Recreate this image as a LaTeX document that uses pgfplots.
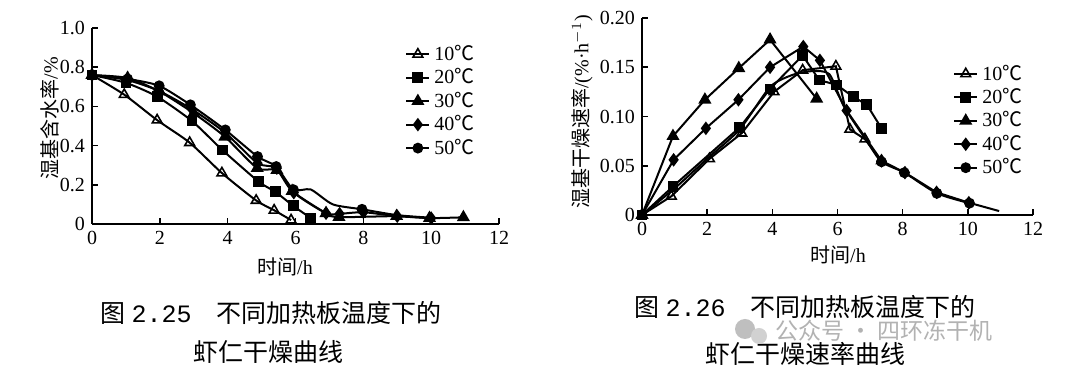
\documentclass[border=0pt]{standalone}
\usepackage{fontspec}
\setmainfont{Liberation Serif}
\newfontfamily\cjk{Noto Sans CJK SC}
\newfontfamily\monof{Liberation Mono}
\usepackage{pgfplots}
\pgfplotsset{compat=1.18}
\pgfplotsset{
  common/.style={
    scale only axis,
    axis x line*=bottom, axis y line*=left,
    tick align=inside, major tick length=3pt,
    axis line style={line width=0.9pt},
    every tick/.style={line width=0.8pt},
    tick label style={font=\fontsize{10}{12}\selectfont},
    /pgf/number format/assume math mode=true,
    xmin=0, xmax=12, ymin=0,
    xtick={0,2,...,12},
    clip=false,
    every axis plot/.append style={line width=1pt, black},
    legend style={draw=none, fill=none, inner sep=0pt, row sep=-1.4pt,
      font=\fontsize{10}{10}\selectfont, cells={anchor=west}},
    legend image code/.code={\draw[#1, mark indices={2}] plot coordinates {(0pt,0pt)(5.75pt,0pt)(11.5pt,0pt)};},
  },
  m10/.style={mark=triangle, mark size=2.8pt, mark options={solid, fill=white, line width=0.8pt}},
  m20/.style={mark=square*, mark size=2.2pt, mark options={solid, fill=black}},
  m30/.style={mark=triangle*, mark size=2.8pt, mark options={solid, fill=black}},
  m40/.style={mark=diamond*, mark size=2.6pt, mark options={solid, fill=black}},
  m50/.style={mark=*, mark size=2.2pt, mark options={solid, fill=black}},
}
\begin{document}
\begin{tikzpicture}
\path[use as bounding box, fill=white] (0pt,0pt) rectangle (540pt,189pt);
% ---------------- left chart ----------------
\begin{axis}[common, at={(46pt,77pt)}, anchor=south west,
  width=203.5pt, height=98pt, ymax=1.0,
  ytick={0,0.2,0.4,0.6,0.8,1.0}, yticklabels={0,0.2,0.4,0.6,0.8,1.0},
  legend style={at={(rel axis cs:0.769,0.935)}, anchor=north west}]
\addplot[m10, smooth, tension=0.4] coordinates {(0,0.76)(0.95,0.66)(1.92,0.53)(2.88,0.415)(3.83,0.26)(4.84,0.12)(5.37,0.07)(5.87,0.02)};
\addlegendentry{10{\cjk ℃}}
\addplot[m20, smooth, tension=0.4] coordinates {(0,0.76)(1.0,0.72)(1.92,0.65)(2.95,0.525)(3.84,0.378)(4.92,0.215)(5.4,0.165)(5.93,0.093)(6.45,0.03)};
\addlegendentry{20{\cjk ℃}}
\addplot[m30, smooth, tension=0.4] coordinates {(0,0.76)(1.05,0.745)(2.0,0.675)(3.0,0.565)(3.92,0.445)(4.87,0.285)(5.45,0.275)(5.9,0.168)(6.9,0.055)(7.28,0.035)(8.98,0.04)(9.95,0.03)(10.95,0.034)};
\addlegendentry{30{\cjk ℃}}
\addplot[m40, smooth, tension=0.4] coordinates {(0,0.76)(1.03,0.735)(1.96,0.68)(2.95,0.585)(3.93,0.465)(4.88,0.31)(5.45,0.285)(5.95,0.16)(6.9,0.055)(7.3,0.052)(8.0,0.06)(9.0,0.04)(10.0,0.03)};
\addlegendentry{40{\cjk ℃}}
\addplot[m50, smooth, tension=0.4, mark indices={2,3,4,5,6,7,8,11}] coordinates {(0,0.76)(1.05,0.74)(1.98,0.705)(2.9,0.608)(3.93,0.48)(4.88,0.344)(5.43,0.293)(5.94,0.175)(6.45,0.176)(7.1,0.1)(7.96,0.075)(9.0,0.045)(10.0,0.032)};
\addlegendentry{50{\cjk ℃}}
\end{axis}
% ---------------- right chart ----------------
\begin{axis}[common, at={(321pt,81.5pt)}, anchor=south west,
  width=195.5pt, height=98.5pt, ymax=0.2,
  ytick={0,0.05,0.10,0.15,0.20}, yticklabels={0,0.05,0.10,0.15,0.20},
  legend style={at={(rel axis cs:0.795,0.785)}, anchor=north west}]
\addplot[m10] coordinates {(0,0)(0.9,0.019)(2.07,0.057)(3.06,0.083)(4.05,0.125)(4.93,0.147)(5.95,0.151)(6.38,0.087)(6.84,0.077)(7.35,0.055)};
\addlegendentry{10{\cjk ℃}}
\addplot[m20] coordinates {(0,0)(0.95,0.029)(3.0,0.089)(3.93,0.128)(4.93,0.162)(5.44,0.137)(5.98,0.132)(6.48,0.12)(6.9,0.112)(7.35,0.088)};
\addlegendentry{20{\cjk ℃}}
\addplot[m30] coordinates {(0,0)(0.95,0.08)(1.93,0.117)(2.97,0.149)(3.93,0.178)(5.36,0.118)};
\addlegendentry{30{\cjk ℃}}
\addplot[m40, mark indices={2,3,4,5,6,7,8,9,10,11,12}] coordinates {(0,0)(0.97,0.056)(1.96,0.088)(2.96,0.117)(3.93,0.15)(4.95,0.171)(5.46,0.157)(6.28,0.106)(7.35,0.055)(8.07,0.043)(9.04,0.023)(10.03,0.0125)(10.96,0.004)};
\addlegendentry{40{\cjk ℃}}
\addplot[m50, smooth, tension=0.4, mark indices={11,12,13,14}] coordinates {(0,0)(1,0.027)(2,0.057)(3,0.087)(3.93,0.13)(4.6,0.142)(5.2,0.146)(5.75,0.143)(6.2,0.11)(6.9,0.075)(7.35,0.054)(8.05,0.043)(9.05,0.022)(10.05,0.012)};
\addlegendentry{50{\cjk ℃}}
\end{axis}
\begin{scope}[x=0.5pt,y=0.5pt]
% ---------------- labels ----------------
\node[rotate=90, font=\fontsize{10}{12}\selectfont] at (50,378-118) {{\cjk 湿基含水率}/\%};
\node[font=\fontsize{10}{12}\selectfont] at (285,378-267) {{\cjk 时间}/h};
\node[rotate=90, font=\fontsize{10}{12}\selectfont] at (582,378-112) {{\cjk 湿基干燥速率}/(\%\textperiodcentered h$^{-1}$)};
\node[font=\fontsize{10}{12}\selectfont] at (838,378-255) {{\cjk 时间}/h};
% ---------------- captions ----------------
\node[font=\fontsize{12.5}{15}\selectfont] at (271,378-313) {{\cjk 图} {\monof 2.25}\hspace{1em}{\cjk 不同加热板温度下的}};
\node[font=\fontsize{12.5}{15}\selectfont] at (268,378-352) {\cjk 虾仁干燥曲线};
\node[font=\fontsize{12.5}{15}\selectfont, inner sep=0pt] at (805,378-307) {{\cjk 图} {\monof 2.26}\hspace{1em}{\cjk 不同加热板温度下的}};
\node[font=\fontsize{12.5}{15}\selectfont] at (805,378-354) {\cjk 虾仁干燥速率曲线};
% ---------------- watermark ----------------
\fill[black!25] (745,378-329) circle (10);
\fill[black!18] (759,378-336) circle (8);
\node[font=\fontsize{11.5}{12}\selectfont, text=black!30, anchor=west, inner sep=0pt] at (775,378-331) {\cjk 公众号 · 四环冻干机};
\end{scope}
\end{tikzpicture}
\end{document}
